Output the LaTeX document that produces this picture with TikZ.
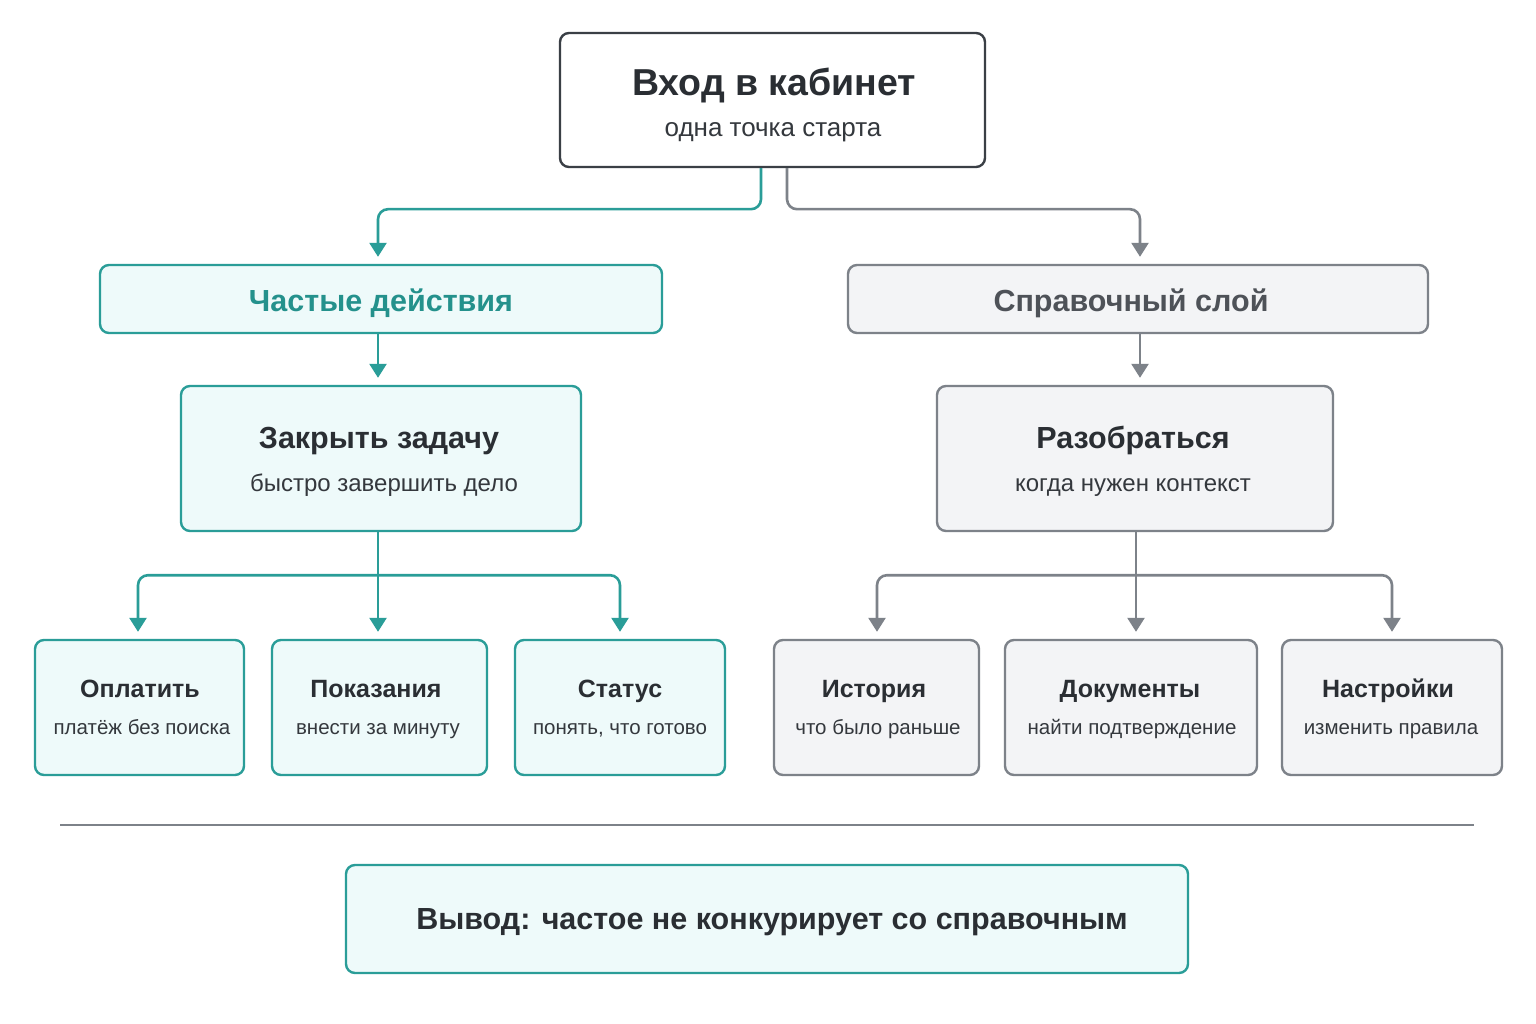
\documentclass[tikz,border=0pt]{standalone}
\usepackage{fontspec}
\setmainfont{Liberation Sans}
\usetikzlibrary{arrows.meta}
\definecolor{tealc}{HTML}{2A9D98}
\definecolor{tealtxt}{HTML}{24918C}
\definecolor{tealfill}{HTML}{EEFAFA}
\definecolor{grayc}{HTML}{7D8289}
\definecolor{grayfill}{HTML}{F3F4F6}
\definecolor{darkc}{HTML}{3A3F45}
\definecolor{txt}{HTML}{2A2E33}
\definecolor{subtxt}{HTML}{34383D}
\tikzset{
  box/.style={rectangle, rounded corners=9pt, line width=2.4pt, inner sep=0pt},
  tbox/.style={box, draw=tealc, fill=tealfill},
  gbox/.style={box, draw=grayc, fill=grayfill},
  lbl/.style={anchor=base, inner sep=0pt, text=txt},
  ttl/.style={lbl, font=\fontsize{30.5}{32}\selectfont\bfseries},
  sub/.style={lbl, text=subtxt, font=\fontsize{24}{26}\selectfont},
  sttl/.style={lbl, font=\fontsize{25}{27}\selectfont\bfseries},
  ssub/.style={lbl, text=subtxt, font=\fontsize{20.5}{22}\selectfont},
  tline/.style={draw=tealc, line width=2.6pt, rounded corners=10pt},
  gline/.style={draw=grayc, line width=2.6pt, rounded corners=10pt},
  tarrow/.style={tline, -{Triangle[width=17pt,length=14pt]}, shorten >=7pt},
  garrow/.style={gline, -{Triangle[width=17pt,length=14pt]}, shorten >=7pt},
}
\begin{document}
\begin{tikzpicture}[x=1pt,y=-1pt]
\useasboundingbox[fill=white] (0,0) rectangle (1536,1024);

% top
\node[box, draw=darkc, fill=white, minimum width=425pt, minimum height=134pt] (top) at (772.5,100) {};
\node[lbl, font=\fontsize{37.5}{39}\selectfont\bfseries] (topt) at (774,96) {Вход в кабинет};
\node[sub, font=\fontsize{26}{28}\selectfont] (tops) at (773,137) {одна точка старта};

% sections
\node[tbox, minimum width=562pt, minimum height=68pt] (freq) at (381,299) {};
\node[ttl, text=tealtxt] (freqt) at (381,312) {Частые действия};
\node[gbox, minimum width=580pt, minimum height=68pt] (ref) at (1138,299) {};
\node[ttl, text=darkc!90] (reft) at (1131,312) {Справочный слой};

% mid
\node[tbox, minimum width=400pt, minimum height=145pt] (close) at (381,458.5) {};
\node[ttl] (closet) at (379,448) {Закрыть задачу};
\node[sub] (closes) at (384,491) {быстро завершить дело};
\node[gbox, minimum width=396pt, minimum height=145pt] (und) at (1135,458.5) {};
\node[ttl] (undt) at (1133,448) {Разобраться};
\node[sub] (unds) at (1133,491) {когда нужен контекст};

% small teal
\node[tbox, minimum width=209pt, minimum height=135pt] (pay) at (139.5,707.5) {};
\node[sttl] (payt) at (140,697) {Оплатить};
\node[ssub] (pays) at (142,734) {платёж без поиска};
\node[tbox, minimum width=215pt, minimum height=135pt] (meter) at (379.5,707.5) {};
\node[sttl] (metert) at (376,697) {Показания};
\node[ssub] (meters) at (378,734) {внести за минуту};
\node[tbox, minimum width=210pt, minimum height=135pt] (stat) at (620,707.5) {};
\node[sttl] (statt) at (620,697) {Статус};
\node[ssub] (stats) at (620,734) {понять, что готово};

% small gray
\node[gbox, minimum width=205pt, minimum height=135pt] (hist) at (876.5,707.5) {};
\node[sttl] (histt) at (874,697) {История};
\node[ssub] (hists) at (878,734) {что было раньше};
\node[gbox, minimum width=252pt, minimum height=135pt] (docs) at (1131,707.5) {};
\node[sttl] (docst) at (1130,697) {Документы};
\node[ssub] (docss) at (1132,734) {найти подтверждение};
\node[gbox, minimum width=220pt, minimum height=135pt] (sets) at (1392,707.5) {};
\node[sttl] (setst) at (1388,697) {Настройки};
\node[ssub] (setss) at (1391,734) {изменить правила};

% separator
\coordinate (sepL) at (60,825);
\coordinate (sepR) at (1474,825);
\draw[grayc, line width=2pt] (sepL) -- (sepR);

% bottom
\node[tbox, minimum width=842pt, minimum height=108pt] (concl) at (767,919) {};
\node[ttl] (conclt) at (772,929) {Вывод: частое не конкурирует со справочным};

% connectors
\draw[tarrow] ([xshift=-11.5pt]top.south) -- ++(0,41) -| ([xshift=-3pt]freq.north);
\draw[garrow] ([xshift=14.5pt]top.south) -- ++(0,41) -| ([xshift=2pt]ref.north);
\draw[tarrow] ([xshift=-3pt]freq.south) -- ([xshift=-3pt]close.north);
\draw[garrow] ([xshift=2pt]ref.south) -- ([xshift=5pt]und.north);

\draw[tline] ([xshift=-3pt]close.south) -- ++(0,43) coordinate (jl);
\draw[tarrow] (jl) -| ([xshift=-1.5pt]pay.north);
\draw[tarrow] (jl) -- ([xshift=-1.5pt]meter.north);
\draw[tarrow] (jl) -| (stat.north);

\draw[gline] ([xshift=1pt]und.south) -- ++(0,43) coordinate (jr);
\draw[garrow] (jr) -| ([xshift=0.5pt]hist.north);
\draw[garrow] (jr) -- ([xshift=5pt]docs.north);
\draw[garrow] (jr) -| (sets.north);
\end{tikzpicture}
\end{document}
